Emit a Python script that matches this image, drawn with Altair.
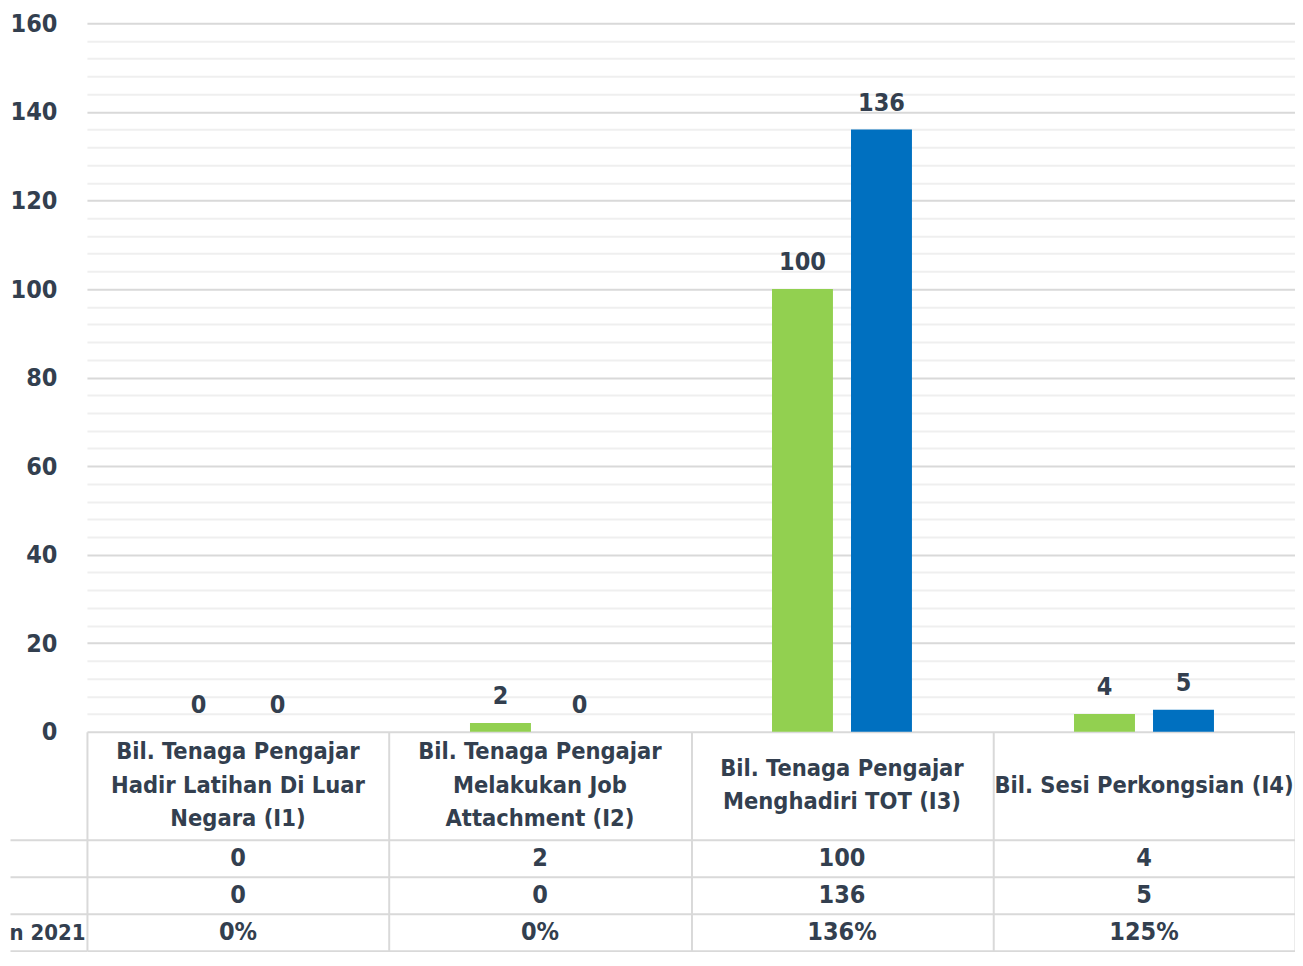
import json
import altair as alt
import pandas as pd

# ---------------- data ----------------
header_lines = [
    ["Bil. Tenaga Pengajar", "Hadir Latihan Di Luar", "Negara (I1)"],
    ["Bil. Tenaga Pengajar", "Melakukan Job", "Attachment (I2)"],
    ["Bil. Tenaga Pengajar", "Menghadiri TOT (I3)"],
    ["Bil. Sesi Perkongsian (I4)"],
]
categories = [" ".join(l) for l in header_lines]
series_names = ["Sasaran 2021", "Pencapaian 2021"]
sasaran = [0, 2, 100, 4]
pencapaian = [0, 0, 136, 5]
peratus = ["0%", "0%", "136%", "125%"]
row_labels = ["", "", "n 2021"]
series_colors = ["#92d050", "#0070c0"]
y_major = [0, 20, 40, 60, 80, 100, 120, 140, 160]
y_minor = [v for v in range(0, 161, 4) if v % 20 != 0]

FONT = "DejaVu Sans Condensed, DejaVu Sans, sans-serif"
TXT = "#333f4f"
GRID = "#d9d9d9"
MINOR = "#efefef"
FS_NUM = 25
FS_HEAD = 23.5
W = 1209
HEAD_H = 108
LINE_H = 33.5

bars_df = pd.DataFrame(
    [{"category": c, "series": series_names[0], "value": v} for c, v in zip(categories, sasaran)]
    + [{"category": c, "series": series_names[1], "value": v} for c, v in zip(categories, pencapaian)]
)
# one record per header line; "pos" = line slot relative to the cell centre (top line highest)
header_df = pd.DataFrame(
    [{"category": c, "line": t, "pos": (len(lines) - 1) / 2 - i}
     for c, lines in zip(categories, header_lines) for i, t in enumerate(lines)]
)
rows_df = pd.DataFrame(
    [{"row": 0, "category": c, "text": str(v)} for c, v in zip(categories, sasaran)]
    + [{"row": 1, "category": c, "text": str(v)} for c, v in zip(categories, pencapaian)]
    + [{"row": 2, "category": c, "text": t} for c, t in zip(categories, peratus)]
)

xscale = alt.Scale(type="band", domain=categories, paddingInner=0, paddingOuter=0)
grid_x_axis = alt.Axis(grid=True, tickBand="extent", gridColor=GRID, gridWidth=2,
                       labels=False, ticks=False, domain=False, title=None, orient="top")

# ---------------- bar chart ----------------
base = alt.Chart(bars_df)
x_enc = alt.X("category:N", sort=categories, scale=xscale, axis=None)
xo_enc = alt.XOffset("series:N", sort=series_names,
                     scale=alt.Scale(type="band", domain=series_names, paddingInner=0.177, paddingOuter=1))
yscale = alt.Scale(domain=[0, 160], nice=False)

minor_layer = base.mark_bar(opacity=0, width=61).encode(
    x=x_enc, xOffset=xo_enc,
    y=alt.Y("value:Q", scale=yscale,
            axis=alt.Axis(orient="right", values=y_minor, grid=True, gridColor=MINOR, gridWidth=2,
                          labels=False, ticks=False, domain=False, title=None)),
)
bars = base.mark_bar(width=61).encode(
    x=x_enc, xOffset=xo_enc,
    y=alt.Y("value:Q", scale=yscale,
            axis=alt.Axis(orient="left", values=y_major, grid=True, gridColor=GRID, gridWidth=2,
                          ticks=False, domain=False, labelPadding=30, labelFont=FONT,
                          labelFontSize=FS_NUM, labelFontWeight="bold", labelColor=TXT, title=None)),
    color=alt.Color("series:N", scale=alt.Scale(domain=series_names, range=series_colors), legend=None),
)
labels = base.mark_text(dy=-27, font=FONT, fontSize=FS_NUM, fontWeight="bold", color=TXT,
                        baseline="middle").encode(
    x=x_enc, xOffset=xo_enc, y=alt.Y("value:Q", scale=yscale, axis=None), text=alt.Text("value:Q"),
)
top = alt.layer(minor_layer, bars, labels).resolve_axis(y="independent").properties(width=W, height=709)

# ---------------- data table header ----------------
half = HEAD_H / 2 / LINE_H
header = alt.Chart(header_df).mark_text(
    font=FONT, fontSize=FS_HEAD, fontWeight="bold", color=TXT, baseline="middle", align="center",
).encode(
    x=alt.X("category:N", sort=categories, scale=xscale, axis=grid_x_axis),
    y=alt.Y("pos:Q", scale=alt.Scale(domain=[-half, half], nice=False, zero=False), axis=None),
    text="line:N",
).properties(width=W, height=HEAD_H)

# ---------------- data table rows ----------------
rows = alt.Chart(rows_df).mark_text(
    font=FONT, fontSize=FS_NUM, fontWeight="bold", color=TXT, baseline="middle", align="center",
).encode(
    x=alt.X("category:N", sort=categories, scale=xscale, axis=grid_x_axis),
    y=alt.Y("row:O", scale=alt.Scale(type="band", domain=[0, 1, 2], paddingInner=0, paddingOuter=0),
            axis=alt.Axis(grid=True, tickBand="extent", gridColor=GRID, gridWidth=2,
                          ticks=True, tickSize=77, tickColor=GRID, tickWidth=2, domain=False,
                          labelExpr=json.dumps(row_labels) + "[datum.value]",
                          labelPadding=-75, labelAlign="right", labelFont=FONT, labelFontSize=22,
                          labelFontWeight="bold", labelColor=TXT, title=None)),
    text="text:N",
).properties(width=W, height=111)

chart = alt.vconcat(top, header, rows, spacing=0, bounds="flush").properties(
    padding={"top": 3, "left": 0, "right": 0, "bottom": 0}
).configure_view(stroke=None)

chart.save("out.html", embed_options={"renderer": "svg", "actions": False})
